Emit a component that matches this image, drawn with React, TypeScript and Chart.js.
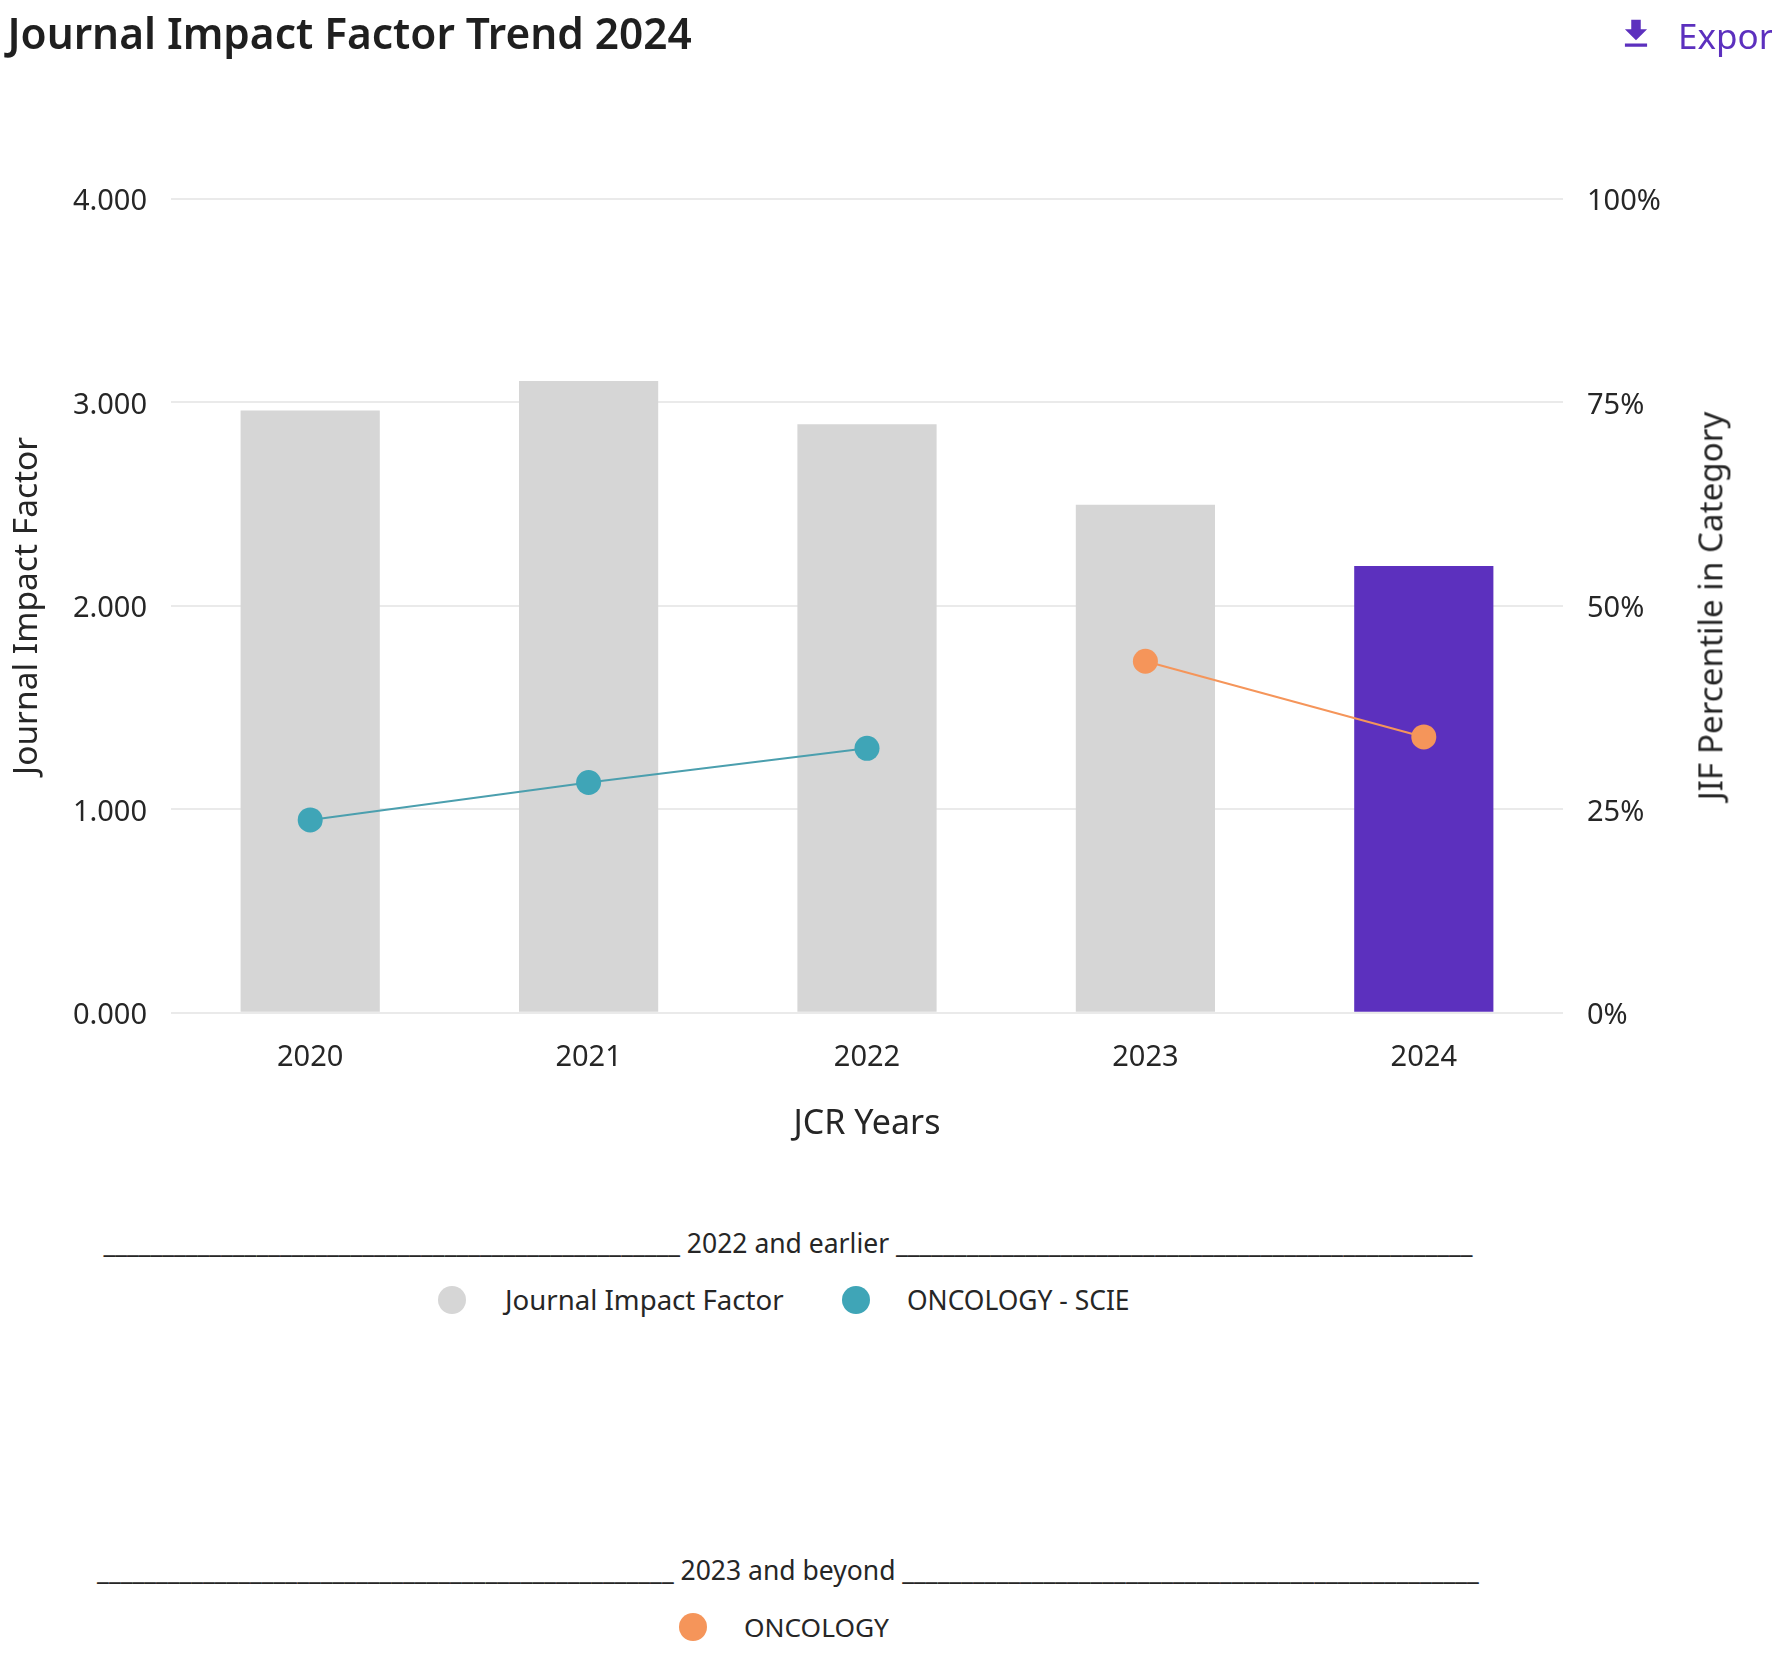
import React, { useEffect, useRef } from "react";
import { Chart, registerables } from "chart.js";

Chart.register(...registerables);

const years = ["2020", "2021", "2022", "2023", "2024"];
const jifValues = [2.96, 3.105, 2.893, 2.497, 2.196];
const scieValues = [23.7, 28.3, 32.5, null, null];
const oncologyValues = [null, null, null, 43.2, 33.9];
const barColors = ["#D6D6D6", "#D6D6D6", "#D6D6D6", "#D6D6D6", "#5C30BE"];
const leftTicks = [0, 1, 2, 3, 4];
const rightTicks = [0, 25, 50, 75, 100];

const TEAL = "#3FA5B7";
const ORANGE = "#F5955A";
const TEXT = "#262626";
const FONT = '"Noto Sans", sans-serif';

// Nudge vertical-axis tick labels so that the digits sit centred on their grid lines.
const nudgeLabels = (s: any) => {
  if (s.__nudged) return;
  s.__nudged = true;
  const orig = s._computeLabelItems.bind(s);
  s._computeLabelItems = (area: any) => orig(area).map((i: any) => ({ ...i, textOffset: i.textOffset + 3 }));
};

function Abs({ x, y, size, weight, color, children }: any) {
  return (
    <div style={{ position: "absolute", left: x, top: y, transform: "translateY(-50%)", fontSize: size, fontWeight: weight || 400, color: color || TEXT, whiteSpace: "nowrap", lineHeight: 1 }}>
      {children}
    </div>
  );
}

function Heading({ y, children }: any) {
  return (
    <div style={{ position: "absolute", left: 0, width: 1576, top: y, transform: "translateY(-50%)", textAlign: "center", fontSize: 26.5, color: TEXT, whiteSpace: "nowrap", lineHeight: 1 }}>
      {children}
    </div>
  );
}

function Dot({ x, y, color }: any) {
  return <div style={{ position: "absolute", left: x - 14, top: y - 14, width: 28, height: 28, borderRadius: "50%", background: color }} />;
}

export default function App() {
  const ref = useRef<HTMLCanvasElement>(null);

  useEffect(() => {
    document.body.style.margin = "0";
    const chart = new Chart(ref.current!, {
      type: "bar",
      data: {
        labels: years,
        datasets: [
          { type: "line", label: "ONCOLOGY - SCIE", data: scieValues, yAxisID: "y1", borderColor: "#4B9FAE", backgroundColor: TEAL, borderWidth: 2, pointRadius: 12.5, pointBorderWidth: 0, tension: 0, order: 1 },
          { type: "line", label: "ONCOLOGY", data: oncologyValues, yAxisID: "y1", borderColor: ORANGE, backgroundColor: ORANGE, borderWidth: 2, pointRadius: 12.5, pointBorderWidth: 0, tension: 0, order: 1 },
          { type: "bar", label: "Journal Impact Factor", data: jifValues, yAxisID: "y", backgroundColor: barColors, barPercentage: 0.5, categoryPercentage: 1, order: 2 },
        ] as any,
      },
      options: {
        animation: false,
        responsive: false,
        devicePixelRatio: 1,
        layout: { padding: { top: 199, left: 0, right: 0, bottom: 55.6 } },
        plugins: { legend: { display: false }, tooltip: { enabled: false } },
        scales: {
          x: {
            grid: { display: false },
            border: { display: false },
            ticks: { color: TEXT, font: { family: FONT, size: 29 }, padding: 20, maxRotation: 0 },
            title: { display: true, text: "JCR Years", color: TEXT, font: { family: FONT, size: 34 }, padding: { top: 8, bottom: 0 } },
          },
          y: {
            position: "left",
            min: 0,
            max: 4,
            afterBuildTicks: (s: any) => { s.ticks = leftTicks.map((value) => ({ value })); },
            afterFit: (s: any) => { s.width = 171; nudgeLabels(s); },
            grid: { color: "#EAEAEA", lineWidth: 2, drawTicks: false },
            border: { display: false },
            ticks: { color: TEXT, font: { family: FONT, size: 29 }, padding: 24, callback: (v: any) => Number(v).toFixed(3) },
            title: { display: true, text: "Journal Impact Factor", color: TEXT, font: { family: FONT, size: 33.5 }, padding: { top: 7, bottom: 0 } },
          },
          y1: {
            position: "right",
            min: 0,
            max: 100,
            afterBuildTicks: (s: any) => { s.ticks = rightTicks.map((value) => ({ value })); },
            afterFit: (s: any) => { s.width = 209; nudgeLabels(s); },
            grid: { display: false, drawTicks: false },
            border: { display: false },
            ticks: { color: TEXT, font: { family: FONT, size: 29 }, padding: 24, callback: (v: any) => v + "%" },
          },
        },
      } as any,
    });
    return () => chart.destroy();
  }, []);

  return (
    <div style={{ position: "relative", width: 1772, height: 1660, overflow: "hidden", fontFamily: FONT, background: "#fff" }}>
      <canvas ref={ref} width={1772} height={1200} style={{ position: "absolute", left: 0, top: 0, width: 1772, height: 1200 }} />
      <div style={{ position: "absolute", left: 1710, top: 606, transform: "translate(-50%, -50%) rotate(-90deg)", fontSize: 33.2, color: TEXT, whiteSpace: "nowrap", lineHeight: 1 }}>JIF Percentile in Category</div>
      <Abs x={7.4} y={33} size={42.4} weight={600} color="#1f1f1f">Journal Impact Factor Trend 2024</Abs>
      <svg style={{ position: "absolute", left: 1617, top: 15 }} width={38} height={38} viewBox="0 0 24 24">
        <path fill="#5C30BE" d="M19 9h-4V3H9v6H5l7 7 7-7zM5 18v2h14v-2H5z" />
      </svg>
      <Abs x={1678} y={35} size={35} color="#5C30BE">Export</Abs>

      <Heading y={1243}>{"_".repeat(49)} 2022 and earlier {"_".repeat(49)}</Heading>
      <Dot x={452} y={1300} color="#D6D6D6" />
      <Abs x={505} y={1300} size={27.6}>Journal Impact Factor</Abs>
      <Dot x={856} y={1300} color={TEAL} />
      <Abs x={907} y={1300} size={26.4}>ONCOLOGY - SCIE</Abs>

      <Heading y={1570}>{"_".repeat(49)} 2023 and beyond {"_".repeat(49)}</Heading>
      <Dot x={693} y={1627} color={ORANGE} />
      <Abs x={744} y={1627} size={26.3}>ONCOLOGY</Abs>
    </div>
  );
}
